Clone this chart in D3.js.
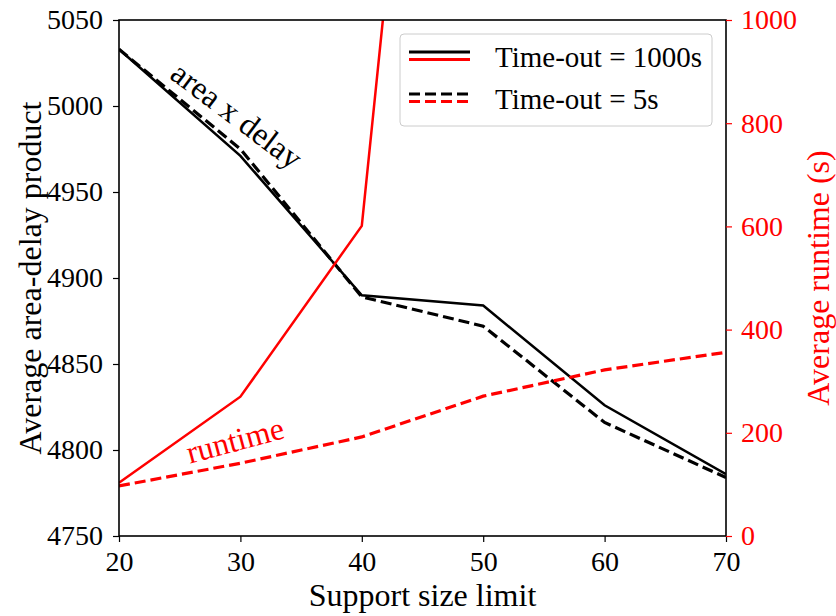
<!DOCTYPE html>
<html>
<head>
<meta charset="utf-8">
<script src="https://cdn.jsdelivr.net/npm/d3@7/dist/d3.min.js"></script>
<style>
  body { margin: 0; background: #fff; }
  text { font-family: "Liberation Serif", "Times New Roman", serif; }
</style>
</head>
<body>
<div id="chart"></div>
<script>
// support size limit
var supportSizes = [20, 30, 40, 50, 60, 70];
// average area-delay product
var adpLong = [5033, 4971, 4890, 4884, 4826, 4786];
var adpShort = [5033, 4975, 4889, 4872, 4816, 4784];
// average runtime (s); the 1000s run leaves the plot after 50
var runLong = [103, 270, 601, 2900, null, null];
var runShort = [97, 141, 192, 271, 322, 356];

var leftTicks = [4750, 4800, 4850, 4900, 4950, 5000, 5050];
var rightTicks = [0, 200, 400, 600, 800, 1000];

var W = 836, H = 616;
var margin = {top: 20, right: 110, bottom: 80, left: 119};
var width = W - margin.left - margin.right;
var height = H - margin.top - margin.bottom;
var tickFont = 28;
var titleFont = 32;
var legendFont = 29;
var red = "#ff0000";

var svg = d3.select("#chart").append("svg")
    .attr("width", W)
    .attr("height", H);

var g = svg.append("g")
    .attr("transform", "translate(" + margin.left + "," + margin.top + ")");

var xScale = d3.scaleLinear().domain([20, 70]).range([0, width]);
var yLeft = d3.scaleLinear().domain([4750, 5050]).range([height, 0]);
var yRight = d3.scaleLinear().domain([0, 1000]).range([height, 0]);

g.append("defs").append("clipPath")
    .attr("id", "mask")
    .append("rect")
    .attr("width", width)
    .attr("height", height);

function rows(vals) {
    return supportSizes.map(function(s, i) { return {x: s, y: vals[i]}; });
}

var lineLeft = d3.line()
    .x(function(d) { return xScale(d.x); })
    .y(function(d) { return yLeft(d.y); });

var lineRight = d3.line()
    .defined(function(d) { return d.y !== null; })
    .x(function(d) { return xScale(d.x); })
    .y(function(d) { return yRight(d.y); });

var plot = g.append("g").attr("clip-path", "url(#mask)");

var series = [
    {data: adpLong, line: lineLeft, color: "#000", dash: null, w: 2.5},
    {data: adpShort, line: lineLeft, color: "#000", dash: "11,5", w: 3.2},
    {data: runLong, line: lineRight, color: red, dash: null, w: 2.5},
    {data: runShort, line: lineRight, color: red, dash: "11,5", w: 3.2}
];

series.forEach(function(s) {
    plot.append("path")
        .datum(rows(s.data))
        .attr("fill", "none")
        .attr("stroke", s.color)
        .attr("stroke-width", s.w)
        .attr("stroke-dasharray", s.dash)
        .attr("d", s.line);
});

// frame
g.append("rect")
    .attr("width", width)
    .attr("height", height)
    .attr("fill", "none")
    .attr("stroke", "#000")
    .attr("stroke-width", 1.6);

var fmt = d3.format("d");
var xAxis = d3.axisBottom(xScale).tickValues(supportSizes).tickFormat(fmt).tickSize(6).tickPadding(9);
var yAxisL = d3.axisLeft(yLeft).tickValues(leftTicks).tickFormat(fmt).tickSize(6).tickPadding(10);
var yAxisR = d3.axisRight(yRight).tickValues(rightTicks).tickFormat(fmt).tickSize(6).tickPadding(9);

function styleAxis(sel, color) {
    sel.select(".domain").remove();
    sel.selectAll(".tick line").attr("stroke", color).attr("stroke-width", 1.2);
    sel.selectAll(".tick text")
        .attr("fill", color)
        .style("font-size", tickFont + "px")
        .style("font-family", "'Liberation Serif', serif");
}

g.append("g")
    .attr("transform", "translate(0," + height + ")")
    .call(xAxis)
    .call(styleAxis, "#000");

g.append("g")
    .call(yAxisL)
    .call(styleAxis, "#000");

g.append("g")
    .attr("transform", "translate(" + width + ",0)")
    .call(yAxisR)
    .call(styleAxis, red);

// axis titles
svg.append("text")
    .attr("x", margin.left + width / 2)
    .attr("y", 606)
    .attr("text-anchor", "middle")
    .style("font-size", titleFont + "px")
    .text("Support size limit");

svg.append("text")
    .attr("transform", "translate(41," + (margin.top + height / 2) + ") rotate(-90)")
    .attr("text-anchor", "middle")
    .style("font-size", titleFont + "px")
    .text("Average area-delay product");

svg.append("text")
    .attr("transform", "translate(829," + (margin.top + height / 2) + ") rotate(-90)")
    .attr("text-anchor", "middle")
    .attr("fill", red)
    .style("font-size", titleFont + "px")
    .text("Average runtime (s)");

// annotations
svg.append("text")
    .attr("transform", "translate(237,115) rotate(37)")
    .attr("text-anchor", "middle")
    .attr("dy", "0.35em")
    .style("font-size", titleFont + "px")
    .text("area x delay");

svg.append("text")
    .attr("transform", "translate(235,440) rotate(-15)")
    .attr("text-anchor", "middle")
    .attr("dy", "0.35em")
    .attr("fill", red)
    .style("font-size", titleFont + "px")
    .text("runtime");

// legend
var legend = svg.append("g").attr("transform", "translate(400,34)");
legend.append("rect")
    .attr("width", 312)
    .attr("height", 92)
    .attr("rx", 4)
    .attr("fill", "#fff")
    .attr("fill-opacity", 0.8)
    .attr("stroke", "#cccccc")
    .attr("stroke-width", 1);

var legendItems = [
    {label: "Time-out = 1000s", dash: null, w: 2.8, y: 18},
    {label: "Time-out = 5s", dash: "11,5", w: 3, y: 60}
];

legendItems.forEach(function(d) {
    [["#000", 0], [red, 7.5]].forEach(function(c) {
        legend.append("line")
            .attr("x1", 9)
            .attr("x2", 70)
            .attr("y1", d.y + c[1])
            .attr("y2", d.y + c[1])
            .attr("stroke", c[0])
            .attr("stroke-width", d.w)
            .attr("stroke-dasharray", d.dash);
    });
    legend.append("text")
        .attr("x", 95)
        .attr("y", d.y + 15)
        .style("font-size", legendFont + "px")
        .text(d.label);
});
</script>
</body>
</html>
